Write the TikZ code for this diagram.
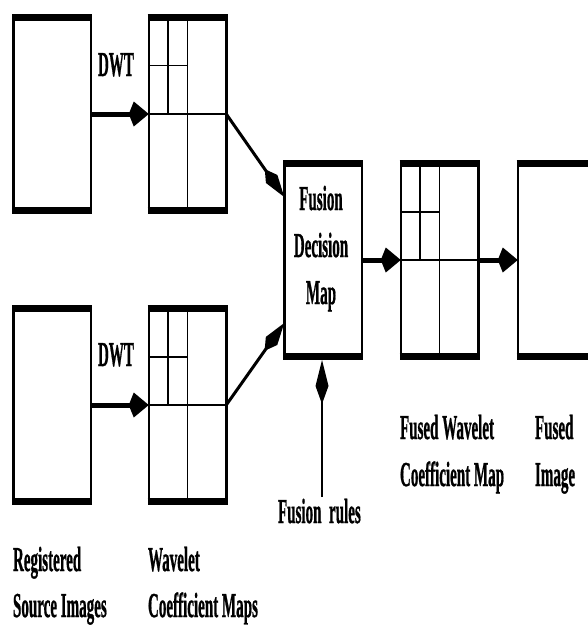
\documentclass[tikz,border=0pt]{standalone}
\usepackage{fontspec}
\setmainfont[BoldFeatures={FakeBold=1.2}]{Liberation Serif}
\usetikzlibrary{arrows.meta,calc}
\newcommand{\lbl}[1]{\scalebox{0.43}[1]{\bfseries #1}}
\begin{document}
\begin{tikzpicture}[x=1pt,y=-1pt,
  imgbox/.style={draw, line width=2.5pt, rectangle, inner sep=0pt, outer sep=0pt,
                 minimum width=77.5pt, minimum height=193pt},
  band/.style={line width=7pt},
  sub/.style={line width=1.5pt},
  bigarrow/.style={line width=5pt, -{Kite[length=20pt,width=25pt,inset=5pt]}},
  diagarrow/.style={line width=3pt, -{Kite[length=34pt,width=14pt,inset=12pt]}},
  rulearrow/.style={line width=1.5pt, -{Kite[length=44pt,width=13pt,inset=18pt]}},
  txt/.style={anchor=base west, inner sep=0pt, outer sep=0pt, font=\fontsize{35}{40}\selectfont}
]
\useasboundingbox (0,0) rectangle (588,626);
\clip (0,0) rectangle (588,626);

% boxes
\node[imgbox] (s1) at (52,114) {};
\node[imgbox] (w1) at (187.5,114) {};
\node[imgbox] (s2) at (52,405) {};
\node[imgbox] (w2) at (187.5,405) {};
\node[imgbox] (fd) at (323,260) {};
\node[imgbox] (fw) at (439.5,260) {};
\node[imgbox] (fi) at (556.5,260) {};

% thick top and bottom borders
\foreach \n in {s1,w1,s2,w2,fd,fw,fi} {
  \draw[band] ([xshift=-1.25pt]\n.north west) -- ([xshift=1.25pt]\n.north east);
  \draw[band] ([xshift=-1.25pt]\n.south west) -- ([xshift=1.25pt]\n.south east);
}

% wavelet subdivisions
\foreach \n in {w1,w2,fw} {
  \draw[sub] (\n.north) -- (\n.south);
  \draw[sub] (\n.west) -- (\n.east);
  \draw[sub] ($(\n.north west)!0.5!(\n.north)$) -- ($(\n.west)!0.5!(\n.center)$);
  \draw[sub] ($(\n.north west)!0.5!(\n.west)$) -- ($(\n.north)!0.5!(\n.center)$);
}

% connectors
\draw[bigarrow] (s1.east) -- (w1.west);
\draw[bigarrow] (s2.east) -- (w2.west);
\draw[diagarrow] (w1.east) -- ($(fd.west)+(0,-63)$);
\draw[diagarrow] (w2.east) -- ($(fd.west)+(0,63)$);
\draw[bigarrow] (fd.east) -- (fw.west);
\draw[bigarrow] (fw.east) -- (fi.west);
\coordinate (fr) at (322,497);
\draw[rulearrow] (fr) -- ($(fd.south)+(-1,3.5)$);

% labels
\node[txt] (dwt1) at (98,76) {\lbl{DWT}};
\node[txt] (dwt2) at (98,366) {\lbl{DWT}};
\node[txt,anchor=base] (fdA) at (321,210) {\lbl{Fusion}};
\node[txt,anchor=base] (fdB) at (321,257) {\lbl{Decision}};
\node[txt,anchor=base] (fdC) at (321,304) {\lbl{Map}};
\node[txt] (frl) at (278,523) {\lbl{Fusion\ \ rules}};
\node[txt] (fwA) at (400,439) {\lbl{Fused Wavelet}};
\node[txt] (fwB) at (400,486) {\lbl{Coefficient Map}};
\node[txt] (fiA) at (535,439) {\lbl{Fused}};
\node[txt] (fiB) at (535,486) {\lbl{Image}};
\node[txt] (rsA) at (13,571) {\lbl{Registered}};
\node[txt] (rsB) at (13,617) {\lbl{Source Images}};
\node[txt] (wcA) at (148,571) {\lbl{Wavelet}};
\node[txt] (wcB) at (148,617) {\lbl{Coefficient Maps}};
\end{tikzpicture}
\end{document}
